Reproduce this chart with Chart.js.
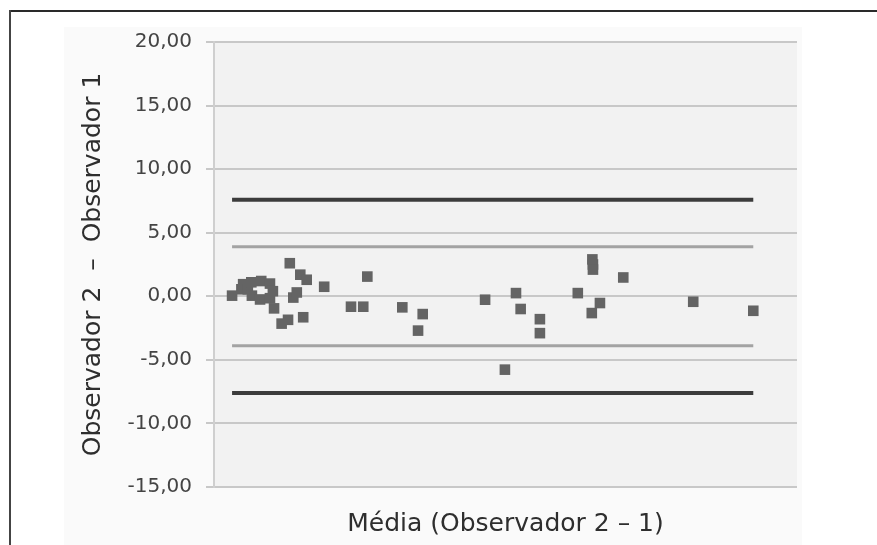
<!DOCTYPE html>
<html>
<head>
<meta charset="utf-8">
<script src="https://cdn.jsdelivr.net/npm/chart.js@4.4.0/dist/chart.umd.min.js"></script>
<style>
  html, body { margin: 0; padding: 0; background: #fff; }
  #wrap { position: relative; width: 877px; height: 545px; overflow: hidden; }
  #panel { position: absolute; left: 64px; top: 27px; width: 738px; height: 518px; background: #fafafa; }
  #frameTop { position: absolute; left: 9px; top: 10px; width: 868px; height: 2px; background: #2a2a2a; }
  #frameLeft { position: absolute; left: 9px; top: 10px; width: 2px; height: 535px; background: #444; }
  canvas { position: absolute; left: 0; top: 0; }
</style>
</head>
<body>
<div id="wrap">
  <div id="panel"></div>
  <div id="frameTop"></div>
  <div id="frameLeft"></div>
  <canvas id="baChart" width="877" height="545"></canvas>
</div>
<script>
// media of the two observers (x, no scale shown) and differences (y)
const means = [3.1, 4.7, 5.0, 5.8, 6.4, 6.5, 7.9, 8.1, 9.6, 9.6, 10.1, 10.3, 11.6, 12.7, 13.0, 13.6, 14.2, 14.8, 15.3, 15.9,
    18.9, 23.5, 25.6, 26.3, 32.3, 35.0, 35.8, 46.5, 49.9, 51.8, 52.6, 55.9, 55.9, 62.4, 64.8, 64.9, 65.0, 65.0, 66.2, 70.2,
    82.2, 92.5]
const diffs = [0.05, 0.55, 0.95, 0.55, 1.1, 0.05, -0.25, 1.2, 1.0, -0.15, 0.4, -0.95, -2.15, -1.85, 2.6, -0.1, 0.3, 1.7, -1.65, 1.3,
    0.75, -0.82, -0.82, 1.55, -0.87, -2.7, -1.4, -0.27, -5.77, 0.25, -1.0, -1.8, -2.9, 0.25, -1.32, 2.9, 2.5, 2.1, -0.53, 1.48,
    -0.43, -1.14]

const limitsOuter = [7.6, -7.6]
const limitsInner = [3.9, -3.9]
const yTicks = [20, 15, 10, 5, 0, -5, -10, -15]

const xFrom = Math.min(...means)
const xTo = Math.max(...means)

const points = means.map((m, i) => ({ x: m, y: diffs[i] }))
const hLine = v => [{ x: xFrom, y: v }, { x: xTo, y: v }]

const lineSets = []
limitsInner.forEach(v => lineSets.push({
    type: 'line', data: hLine(v), borderColor: '#a3a3a3', borderWidth: 3,
    pointRadius: 0, showLine: true, order: 2
}))
limitsOuter.forEach(v => lineSets.push({
    type: 'line', data: hLine(v), borderColor: '#3c3c3c', borderWidth: 4,
    pointRadius: 0, showLine: true, order: 2
}))

const plotBg = {
    id: 'plotBg',
    beforeDraw(chart) {
        const { ctx, chartArea: a } = chart
        ctx.save()
        ctx.fillStyle = '#f2f2f2'
        ctx.fillRect(a.left, a.top, a.right - a.left, a.bottom - a.top)
        ctx.restore()
    }
}

const ctx = document.getElementById('baChart').getContext('2d')

const baChart = new Chart(ctx, {
    type: 'scatter',
    data: {
        datasets: [{
            data: points,
            pointStyle: 'rect',
            pointRadius: 7.5,
            pointBackgroundColor: '#646464',
            pointBorderColor: '#646464',
            pointBorderWidth: 0,
            order: 1
        }, ...lineSets]
    },
    options: {
        responsive: false,
        animation: false,
        layout: { padding: { left: 64, right: 80, top: 42, bottom: 0 } },
        plugins: { legend: { display: false }, tooltip: { enabled: false } },
        scales: {
            x: {
                type: 'linear',
                min: 0,
                max: 100,
                ticks: { display: false },
                grid: { display: false },
                border: { display: false },
                title: {
                    display: true,
                    text: 'Média (Observador 2 – 1)',
                    color: '#2e2e2e',
                    font: { family: 'DejaVu Sans', size: 25 },
                    padding: { top: 0, bottom: 6 }
                },
                afterFit(scale) { scale.height = 58 }
            },
            y: {
                min: -15,
                max: 20,
                afterBuildTicks(scale) { scale.ticks = yTicks.map(v => ({ value: v })) },
                ticks: {
                    color: '#444',
                    padding: 14,
                    font: { family: 'DejaVu Sans', size: 20 },
                    callback: v => v.toFixed(2).replace('.', ',')
                },
                grid: { color: '#c8c8c8', lineWidth: 2, tickLength: 8, tickColor: '#c8c8c8' },
                border: { color: '#cfcfcf', width: 2 },
                title: {
                    display: true,
                    text: 'Observador 2  –  Observador 1',
                    color: '#2e2e2e',
                    font: { family: 'DejaVu Sans', size: 25 },
                    padding: { top: 14, bottom: 0 }
                },
                afterFit(scale) { scale.width = 150 }
            }
        }
    },
    plugins: [plotBg]
})
</script>
</body>
</html>
